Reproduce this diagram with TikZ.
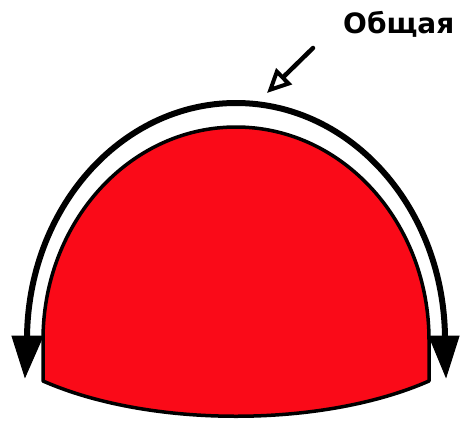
\documentclass[tikz,border=0pt]{standalone}
\usepackage{fontspec}
\setmainfont{DejaVu Sans}
\usetikzlibrary{arrows.meta}
\definecolor{domered}{RGB}{250,10,24}
\tikzset{
  outline/.style={draw=black, line width=3.5pt, line join=round},
  band/.style={draw=black, line width=6pt},
  tip/.style={fill=black, draw=black, line width=1pt, line join=miter},
  pointer/.style={draw=black, line width=4.5pt, line cap=round, -{Triangle[open, length=24pt, width=22pt, line width=4pt]}},
  label/.style={font=\bfseries\fontsize{28}{32}\selectfont, anchor=base west, inner sep=0pt}
}
\begin{document}
\begin{tikzpicture}[x=1pt, y=-1pt]
\useasboundingbox (0,0) rectangle (460,420);
% dome
\path[fill=domered, outline] (43,381) -- (43,340) arc[start angle=180, end angle=360, x radius=193, y radius=213] -- (429,381)
  .. controls (322,428) and (150,428) .. cycle;
% band outer arc
\path[band] (27,342) -- (27,340) arc[start angle=180, end angle=360, x radius=209, y radius=237] -- (445,342);
% arrow tips
\path[tip] (12,336) -- (43,336) -- (25,377) -- cycle;
\path[tip] (429,336) -- (459,336) -- (446,377) -- cycle;
% pointer
\coordinate (pstart) at (313,48);
\coordinate (ptip) at (267,93);
\path[pointer] (pstart) -- (ptip);
\node[label] (lbl) at (343,34) {Общая};
\end{tikzpicture}
\end{document}
